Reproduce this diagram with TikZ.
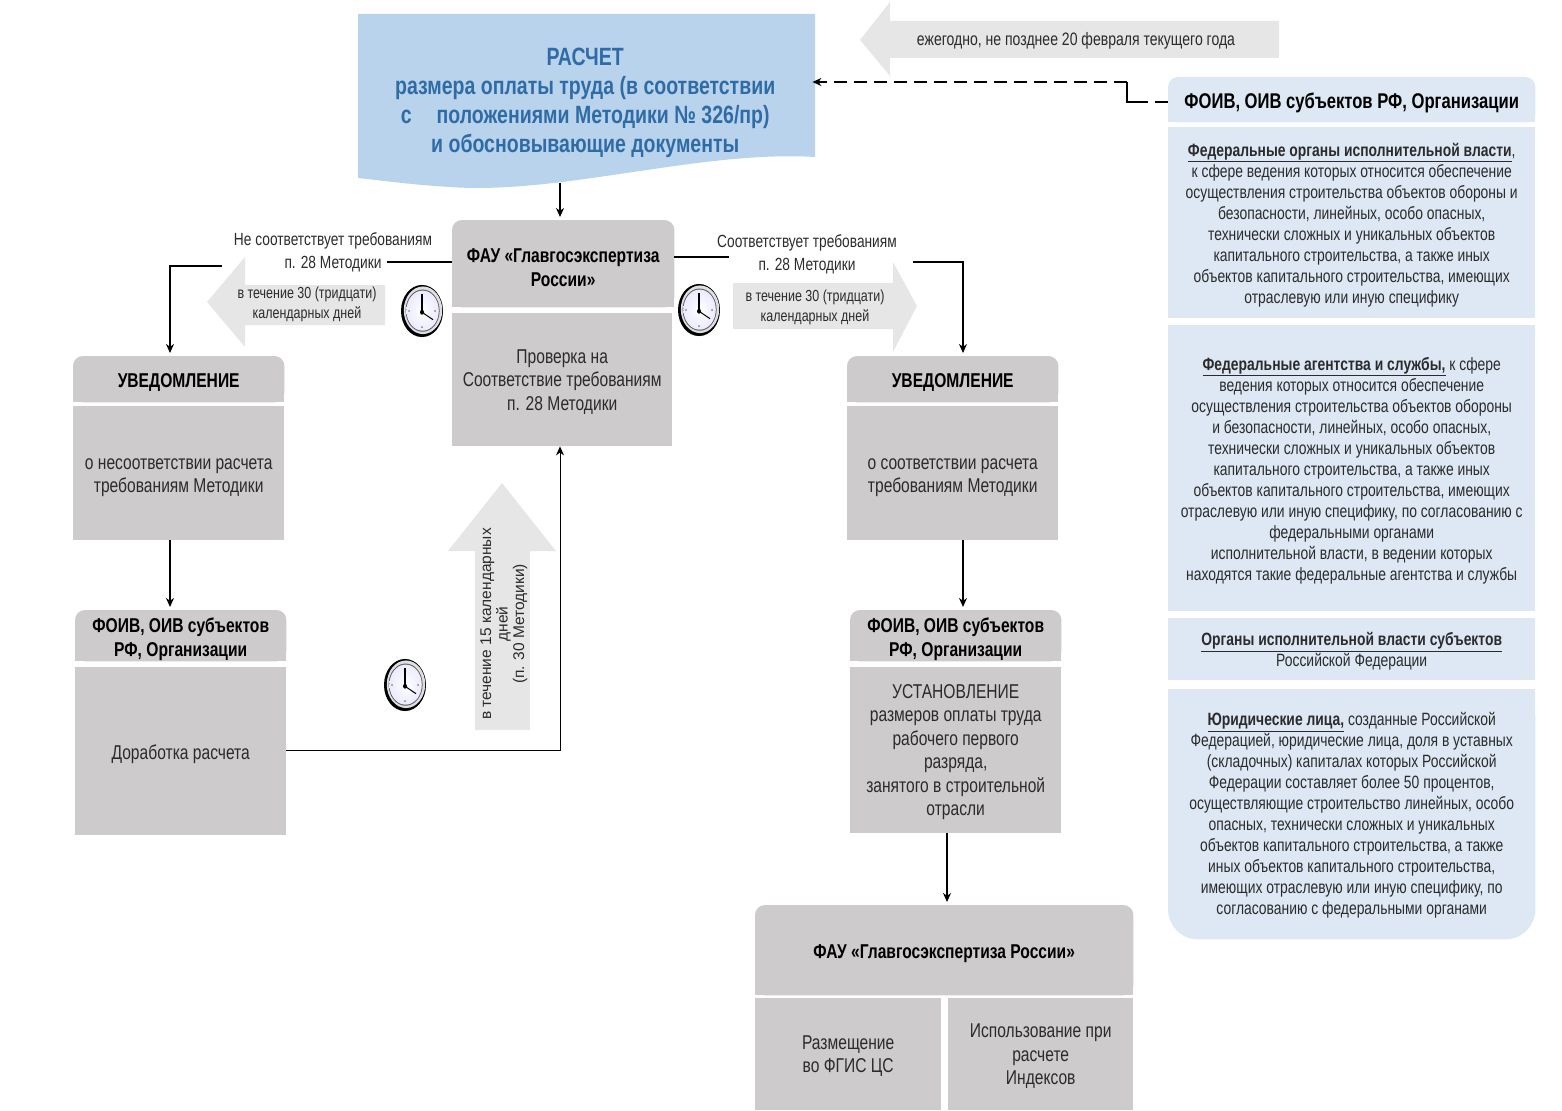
\documentclass[tikz,border=0pt]{standalone}
\usepackage{fontspec}
\setmainfont{Liberation Sans}[FakeStretch=0.78]
\newfontfamily\widefont{Liberation Sans}
\usetikzlibrary{backgrounds,arrows.meta}
\definecolor{boxgrey}{HTML}{CDCBCB}
\definecolor{arrowgrey}{HTML}{E6E6E6}
\definecolor{calcblue}{HTML}{B9D3EC}
\definecolor{calctext}{HTML}{2F6CA6}
\definecolor{panelblue}{HTML}{DDE8F4}
\definecolor{bodytext}{HTML}{2B2B2B}
\newcommand{\fsz}[2]{\fontsize{#1}{#2}\selectfont}
\newcommand{\sk}[1][1em]{\rule{0pt}{#1}}
\tikzset{
	box/.style={anchor=north west, inner sep=0pt, align=center, text=bodytext, font=\fsz{20}{23.5}},
	greybody/.style={box, fill=boxgrey},
	greyhead/.style={box, text=black, font=\bfseries\fsz{20}{23.5}},
	panel/.style={box, fill=panelblue, font=\fsz{17.8}{21}},
	line/.style={line width=2.8pt},
	tip/.style={-{Stealth[length=9pt,width=8pt]}, shorten >=3pt},
	link/.style={line width=1.8pt, tip},
	note/.style={align=center, text=bodytext, inner sep=0pt},
	clock/.pic={
		\begin{scope}[yscale=1.24]
			\fill[black] (0,0) circle (21);
			\fill[gray!25] (1,-0.6) circle (19.2);
			\fill[gray!70!black] (0.6,-0.3) circle (17);
			\shade[inner color=white, outer color=blue!8] (0.6,-0.3) circle (16.2);
			\foreach \a in {0,90,180,270} {
				\fill[gray] (\a:13) circle (0.9);
			}
			\draw[black, line width=1.6pt] (0,1) -- (0,-14);
			\draw[black, line width=1pt] (0,1) -- (11,7);
			\fill[black] (0,1) circle (2);
		\end{scope}
	}
}
\begin{document}
\begin{tikzpicture}[x=1pt,y=-1pt]
	\useasboundingbox (0,0) rectangle (1562,1110);

	% big grey arrows
	\fill[arrowgrey] (860,40) -- (890,2) -- (890,21) -- (1279,21) -- (1279,58) -- (890,58) -- (890,76) -- cycle;
	\fill[arrowgrey] (207,302) -- (245,257) -- (245,285) -- (385,285) -- (385,325) -- (245,325) -- (245,347) -- cycle;
	\fill[arrowgrey] (917,306) -- (893,262) -- (893,283) -- (733,283) -- (733,329) -- (893,329) -- (893,352) -- cycle;
	\fill[arrowgrey] (502,483) -- (556,551) -- (530,551) -- (530,730) -- (475,730) -- (475,551) -- (448,551) -- cycle;

	% calculation sheet
	\fill[calcblue] (358,14) -- (815,14) -- (815,157) .. controls (700,150) and (560,195) .. (450,187) .. controls (415,185) and (385,181) .. (358,178) -- cycle;
	\node[box, minimum width=454, minimum height=177, text=calctext, font=\bfseries\fsz{25}{29}] (calc) at (358,14)
		{РАСЧЕТ\\размера оплаты труда (в соответствии\\с\quad положениями Методики № 326/пр)\\и обосновывающие документы};

	% centre
	\node[greyhead, minimum width=222, minimum height=87] (fauhead) at (452,220) {\sk[1.1em]ФАУ «Главгосэкспертиза\\России»};
	\node[greybody, minimum width=220, minimum height=133] (faubody) at (452,313) {\sk[.9em]Проверка на\\Соответствие требованиям\\п. 28 Методики};

	% left column
	\node[greyhead, minimum width=211, minimum height=46] (nohead) at (73,356) {\sk УВЕДОМЛЕНИЕ};
	\node[greybody, minimum width=211, minimum height=134] (nobody) at (73,406) {\sk о несоответствии расчета\\требованиям Методики};
	\node[greyhead, minimum width=211, minimum height=51] (lefthead) at (75,610) {\sk[1.1em]ФОИВ, ОИВ субъектов\\РФ, Организации};
	\node[greybody, minimum width=211, minimum height=168] (leftbody) at (75,667) {\sk Доработка расчета};

	% right column
	\node[greyhead, minimum width=211, minimum height=46] (yeshead) at (847,356) {\sk УВЕДОМЛЕНИЕ};
	\node[greybody, minimum width=211, minimum height=134] (yesbody) at (847,406) {\sk о соответствии расчета\\требованиям Методики};
	\node[greyhead, minimum width=211, minimum height=51] (righthead) at (850,610) {\sk[1.1em]ФОИВ, ОИВ субъектов\\РФ, Организации};
	\node[greybody, minimum width=211, minimum height=166] (rightbody) at (850,667) {\sk[.9em]УСТАНОВЛЕНИЕ\\размеров оплаты труда\\рабочего первого\\разряда,\\занятого в строительной\\отрасли};

	% bottom block
	\node[greyhead, minimum width=378, minimum height=90] (bottomhead) at (755,905) {\sk ФАУ «Главгосэкспертиза России»};
	\node[greybody, minimum width=186, minimum height=112] (bottomleft) at (755,998) {\sk[.9em]Размещение\\во ФГИС ЦС};
	\node[greybody, minimum width=185, minimum height=112] (bottomright) at (948,998) {\sk[.9em]Использование при\\расчете\\Индексов};

	% right panel
	\node[greyhead, font=\bfseries\fsz{21.3}{24}, minimum width=367, minimum height=45] (orghead) at (1168,77) {\sk ФОИВ, ОИВ субъектов РФ, Организации};
	\node[panel, minimum width=367, minimum height=191] (panelfed) at (1168,127)
		{\sk\textbf{\underline{Федеральные органы исполнительной власти}},\\к сфере ведения которых относится обеспечение\\осуществления строительства объектов обороны и\\безопасности, линейных, особо опасных,\\технически сложных и уникальных объектов\\капитального строительства, а также иных\\объектов капитального строительства, имеющих\\отраслевую или иную специфику};
	\node[panel, minimum width=367, minimum height=286] (panelagency) at (1168,325)
		{\sk\textbf{\underline{Федеральные агентства и службы,}} к сфере\\ведения которых относится обеспечение\\осуществления строительства объектов обороны\\и безопасности, линейных, особо опасных,\\технически сложных и уникальных объектов\\капитального строительства, а также иных\\объектов капитального строительства, имеющих\\отраслевую или иную специфику, по согласованию с\\федеральными органами\\исполнительной власти, в ведении которых\\находятся такие федеральные агентства и службы};
	\node[panel, minimum width=367, minimum height=62] (panelregion) at (1168,618)
		{\sk\textbf{\underline{Органы исполнительной власти субъектов}}\\Российской Федерации};
	\node[box, font=\fsz{17.8}{21}, minimum width=367, minimum height=250] (panellegal) at (1168,689)
		{\sk[.9em]\textbf{\underline{Юридические лица,}} созданные Российской\\Федерацией, юридические лица, доля в уставных\\(складочных) капиталах которых Российской\\Федерации составляет более 50 процентов,\\осуществляющие строительство линейных, особо\\опасных, технически сложных и уникальных\\объектов капитального строительства, а также\\иных объектов капитального строительства,\\имеющих отраслевую или иную специфику, по\\согласованию с федеральными органами};

	% shapes with rounded corners behind the texts
	\begin{scope}[on background layer]
		\foreach \n in {fauhead,nohead,lefthead,yeshead,righthead,bottomhead} {
			\fill[boxgrey, rounded corners=10] (\n.south west) -- (\n.north west) -- (\n.north east) -- (\n.south east) -- cycle;
			\fill[boxgrey] (\n.west) rectangle (\n.south east);
		}
		\fill[panelblue, rounded corners=10] (orghead.south west) -- (orghead.north west) -- (orghead.north east) -- (orghead.south east) -- cycle;
		\fill[panelblue] (orghead.west) rectangle (orghead.south east);
		\fill[panelblue, rounded corners=30] (panellegal.north west) -- (panellegal.south west) -- (panellegal.south east) -- (panellegal.north east) -- cycle;
		\fill[panelblue] (panellegal.north west) rectangle (panellegal.east);
	\end{scope}

	% labels
	\node[note, font=\fsz{17.6}{23}] (noreq) at (333,252) {Не соответствует требованиям\\п. 28 Методики};
	\node[note, font=\fsz{17.6}{23}] (yesreq) at (807,254) {Соответствует требованиям\\п. 28 Методики};
	\node[note, font=\fsz{16}{20}] (nodays) at (307,304.5) {в течение 30 (тридцати)\\календарных дней};
	\node[note, font=\fsz{16}{20}] (yesdays) at (815,307.5) {в течение 30 (тридцати)\\календарных дней};
	\node[note, font=\fsz{18}{20}] (yearly) at (1076,41) {ежегодно, не позднее 20 февраля текущего года};
	\node[note, rotate=90, font=\widefont\fsz{15.5}{16.5}] (updays) at (504,624) {в течение 15 календарных\\дней\\(п. 30 Методики)};

	% connectors
	\coordinate (calcout) at (560,183);
	\coordinate (orgturn) at (1127,102);
	\coordinate (orgtop) at (1127,82);
	\coordinate (orgdash) at (1155,102);
	\coordinate (orgsolid) at (1148,102);
	\coordinate (noend) at (387,262);
	\coordinate (nostart) at (222,266);
	\coordinate (nocorner) at (170,266);
	\coordinate (yesend) at (729,257);
	\coordinate (yesstart) at (913,262);
	\coordinate (yescorner) at (963,262);
	\coordinate (backcorner) at (560,750);
	\coordinate (rightdown) at (947,833);

	\draw[link] (calcout) -- (calcout |- fauhead.north);
	\draw[line] (orghead.west |- orgdash) -- (orgdash);
	\draw[line] (orgsolid) -- (orgturn) -- (orgtop);
	\draw[line, dash pattern=on 13pt off 7pt, tip, shorten >=0pt] (orgtop) -- (calc.north east |- orgtop);
	\draw[line] (noend) -- (noend -| fauhead.west);
	\draw[line, tip] (nostart) -- (nocorner) -- (nocorner |- nohead.north);
	\draw[line] (yesend -| fauhead.east) -- (yesend);
	\draw[line, tip] (yesstart) -- (yescorner) -- (yescorner |- yeshead.north);
	\draw[link] (nocorner |- nobody.south) -- (nocorner |- lefthead.north);
	\draw[link] (yescorner |- yesbody.south) -- (yescorner |- righthead.north);
	\draw[link] (rightdown |- rightbody.south) -- (rightdown |- bottomhead.north);
	\draw[line width=1pt, tip, shorten >=0pt] (leftbody.east |- backcorner) -- (backcorner) -- (backcorner |- faubody.south);

	% clocks
	\pic at (422,311) {clock};
	\pic at (699,310) {clock};
	\pic at (405,685) {clock};
\end{tikzpicture}
\end{document}
